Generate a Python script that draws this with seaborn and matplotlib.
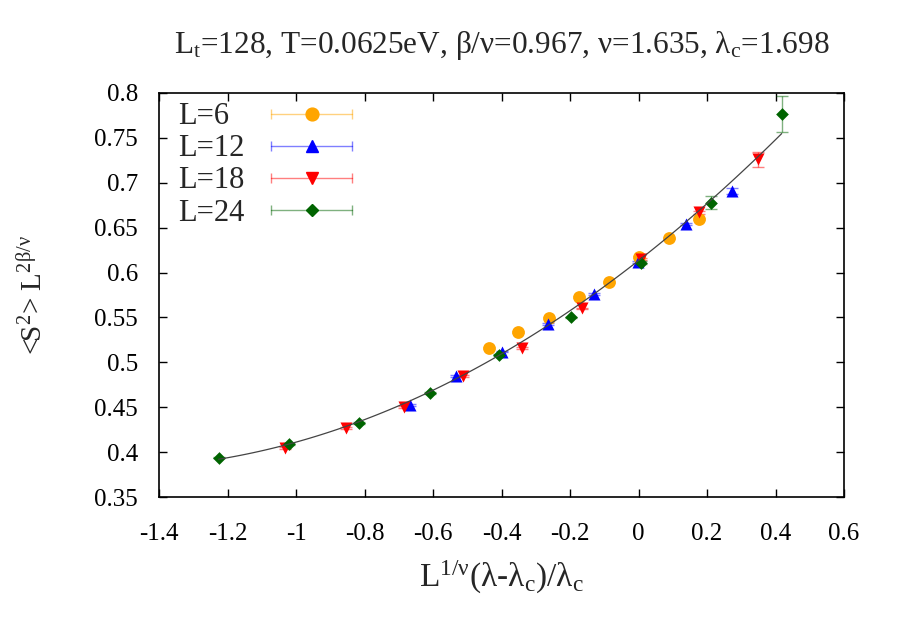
import matplotlib
matplotlib.use("Agg")
import matplotlib.pyplot as plt
import matplotlib.ticker as mticker
from matplotlib.lines import Line2D
from matplotlib.legend_handler import HandlerLine2D, HandlerTuple
import seaborn as sns
import pandas as pd

# data
L6_x = [-0.438, -0.351, -0.261, -0.174, -0.085, 0.001, 0.090, 0.178]
L6_y = [0.516, 0.534, 0.549, 0.573, 0.589, 0.617, 0.638, 0.660]
L6_err = [0.001, 0.001, 0.001, 0.001, 0.001, 0.001, 0.001, 0.001]

L12_x = [-0.667, -0.533, -0.399, -0.265, -0.130, -0.001, 0.139, 0.274]
L12_y = [0.4525, 0.485, 0.512, 0.543, 0.576, 0.612, 0.654, 0.691]
L12_err = [0.001, 0.001, 0.001, 0.001, 0.001, 0.001, 0.0015, 0.003]

L18_x = [-1.032, -0.855, -0.685, -0.512, -0.339, -0.166, 0.006, 0.177, 0.350]
L18_y = [0.405, 0.427, 0.450, 0.485, 0.5156, 0.560, 0.615, 0.667, 0.726]
L18_err = [0.001, 0.001, 0.001, 0.001, 0.001, 0.001, 0.001, 0.0015, 0.008]

L24_x = [-1.226, -1.020, -0.815, -0.609, -0.407, -0.198, 0.006, 0.211, 0.418]
L24_y = [0.394, 0.409, 0.432, 0.4655, 0.508, 0.550, 0.611, 0.678, 0.777]
L24_err = [0.001, 0.001, 0.001, 0.001, 0.001, 0.001, 0.0015, 0.007, 0.020]

labels = ["L=6", "L=12", "L=18", "L=24"]
colors = ["#FFA500", "#0000FF", "#FF0000", "#006400"]
markers = ["o", "^", "v", "D"]
sizes = [85, 75, 75, 42]

x_ticks = [-1.4, -1.2, -1.0, -0.8, -0.6, -0.4, -0.2, 0.0, 0.2, 0.4, 0.6]
y_ticks = [0.35, 0.4, 0.45, 0.5, 0.55, 0.6, 0.65, 0.7, 0.75, 0.8]

sns.set_theme(style="ticks")
plt.rcParams["font.family"] = ["Liberation Serif", "DejaVu Serif"]
plt.rcParams["mathtext.fontset"] = "custom"
plt.rcParams["mathtext.rm"] = "Liberation Serif"
plt.rcParams["mathtext.it"] = "Liberation Serif:italic"
plt.rcParams["mathtext.default"] = "regular"
plt.rcParams["axes.unicode_minus"] = False

series = [(L6_x, L6_y, L6_err), (L12_x, L12_y, L12_err),
          (L18_x, L18_y, L18_err), (L24_x, L24_y, L24_err)]

frames = []
for lab, (xs, ys, es) in zip(labels, series):
    frames.append(pd.DataFrame({"x": xs, "y": ys, "err": es, "L": lab}))
df = pd.concat(frames, ignore_index=True)

fig = plt.figure(figsize=(9, 6.3), dpi=100)
ax = fig.add_axes([0.1767, 0.2111, 0.7611, 0.6413])

for lab, col in zip(labels, colors):
    d = df[df["L"] == lab]
    ax.errorbar(d["x"], d["y"], yerr=d["err"], fmt="none", ecolor=col,
                alpha=0.5, elinewidth=1, capsize=4.5, zorder=2)

for lab, col, mk, s in zip(labels, colors, markers, sizes):
    d = df[df["L"] == lab]
    sns.scatterplot(data=d, x="x", y="y", color=col, marker=mk, s=s,
                    linewidth=0, ax=ax, zorder=3, legend=False)

# quadratic fit through all points
sns.regplot(data=df, x="x", y="y", order=2, ci=None, scatter=False,
            truncate=True, line_kws=dict(color="#444444", lw=0.9, zorder=4), ax=ax)

ax.set_xlim(-1.4, 0.6)
ax.set_ylim(0.35, 0.8)
ax.set_xticks(x_ticks)
ax.set_yticks(y_ticks)
ax.xaxis.set_major_formatter(mticker.FormatStrFormatter("%g"))
ax.yaxis.set_major_formatter(mticker.FormatStrFormatter("%g"))
ax.tick_params(direction="in", top=True, right=True, length=6, width=1,
               labelsize=18, colors="black")
ax.tick_params(axis="y", pad=15)
ax.tick_params(axis="x", pad=19)
for sp in ax.spines.values():
    sp.set_visible(True)
    sp.set_linewidth(1.2)
    sp.set_color("black")

ax.set_xlabel(r"L$^{1/ν}$(λ-λ$_c$)/λ$_c$", fontsize=24, labelpad=10)
ax.set_ylabel(r"<S$^2$> L$^{2β/ν}$", fontsize=21, labelpad=33)
ax.set_title(r"L$_t$=128, T=0.0625eV, β/ν=0.967, ν=1.635, λ$_c$=1.698",
             fontsize=22.5, pad=29)

# gnuplot style key: label first, then errorbar sample
handles = []
hmap = {tuple: HandlerTuple(ndivide=1, pad=0)}
for col, mk, s in zip(colors, markers, sizes):
    bar = Line2D([], [], color=col, alpha=0.5, lw=1, marker="|", markersize=7)
    dot = Line2D([], [], ls="none", marker=mk, color=col, markersize=s ** 0.5)
    hmap[bar] = HandlerLine2D(numpoints=2, marker_pad=0)
    handles.append((bar, dot))
leg_fs = 22
leg = ax.legend(handles, labels, handler_map=hmap, loc="upper left",
                frameon=False, markerfirst=False, fontsize=leg_fs,
                handlelength=2.65, handletextpad=0.88, labelspacing=0.1,
                borderaxespad=0, borderpad=0.4, bbox_to_anchor=(0.01, 1.007))

# keep the labels left aligned like gnuplot: widen the gap of short labels
fig.canvas.draw()
renderer = fig.canvas.get_renderer()
widths = [t.get_window_extent(renderer).width for t in leg.get_texts()]
rows = leg._legend_handle_box.get_children()[0].get_children()
px_per_pt = renderer.points_to_pixels(1.0)
for row, w in zip(rows, widths):
    row.sep += (max(widths) - w) / px_per_pt

fig.savefig("out.png", dpi=100)
